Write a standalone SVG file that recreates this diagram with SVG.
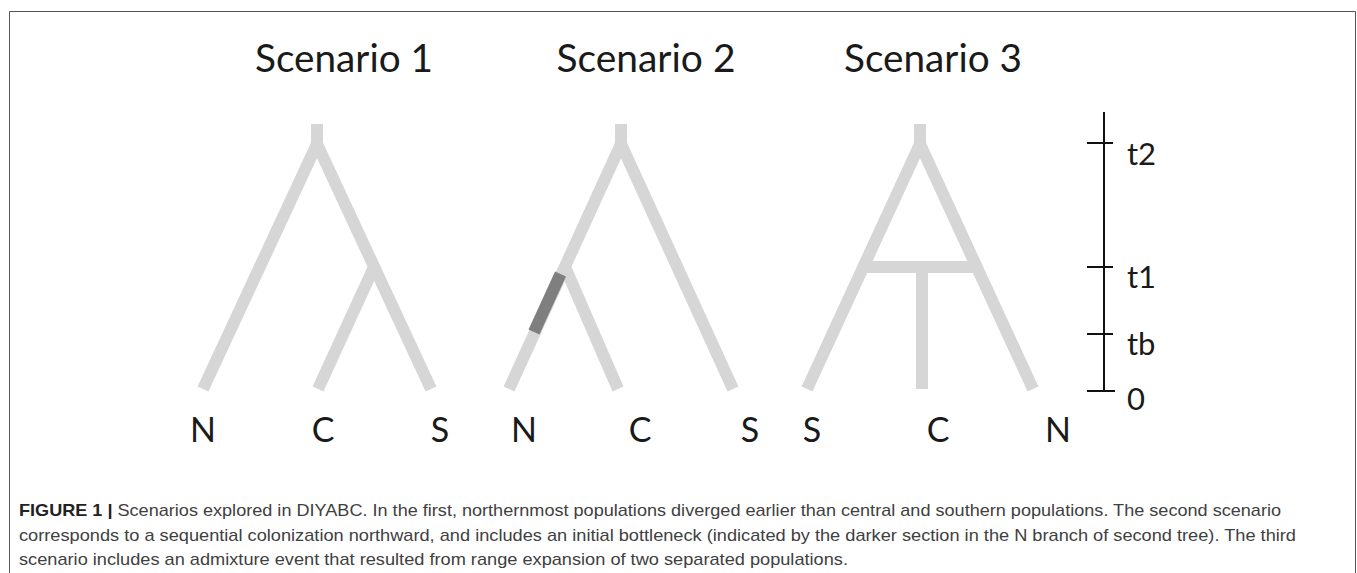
<svg xmlns="http://www.w3.org/2000/svg" width="1357" height="573" viewBox="0 0 1357 573">
<style>
.title{font-family:Lato,"Open Sans",sans-serif;font-size:38px;fill:#1a1a1a;text-anchor:middle}
.leaf{font-family:Lato,"Open Sans",sans-serif;font-size:34px;fill:#1a1a1a;text-anchor:middle}
.axl{font-family:Lato,"Open Sans",sans-serif;font-size:31px;fill:#1a1a1a}
.br{fill:none;stroke:#d6d6d6;stroke-width:12;stroke-linecap:butt;stroke-linejoin:miter}
.dark{fill:none;stroke:#7f7f7f;stroke-width:12;stroke-linecap:butt}
.ax{stroke:#111;stroke-width:2;fill:none}
.cap{font-family:"Liberation Sans",Arial,sans-serif;font-size:17px;fill:#404040}
</style>
<rect x="0" y="0" width="1357" height="573" fill="#fff"/>
<path d="M9.5,600 L9.5,11.5 L1355.5,11.5 L1355.5,600" fill="none" stroke="#555" stroke-width="1"/>
<g id="titles">
<text class="title" x="344" y="72" textLength="178" lengthAdjust="spacingAndGlyphs">Scenario 1</text>
<text class="title" x="646" y="72" textLength="179" lengthAdjust="spacingAndGlyphs">Scenario 2</text>
<text class="title" x="933" y="72" textLength="178" lengthAdjust="spacingAndGlyphs">Scenario 3</text>
</g>
<g id="connectors">
<g id="tree1">
<path class="br" d="M317,124 L317,150"/>
<path class="br" d="M203,389 L317,144 L431,389"/>
<path class="br" d="M374,267 L318,389"/>
</g>
<g id="tree2">
<path class="br" d="M621,124 L621,150"/>
<path class="br" d="M509,389 L621,144 L733,389"/>
<path class="br" d="M565,267 L618,389"/>
<path class="dark" d="M560.5,274 L534,332"/>
</g>
<g id="tree3">
<path class="br" d="M920,124 L920,150"/>
<path class="br" d="M807,389 L920,144 L1033,389"/>
<path class="br" d="M862,267 L978,267"/>
<path class="br" d="M922,267 L922,389"/>
</g>
</g>
<g id="leaves">
<text class="leaf" x="203" y="442">N</text>
<text class="leaf" x="323" y="442">C</text>
<text class="leaf" x="440" y="442">S</text>
<text class="leaf" x="524" y="442">N</text>
<text class="leaf" x="640" y="442">C</text>
<text class="leaf" x="750" y="442">S</text>
<text class="leaf" x="812" y="442">S</text>
<text class="leaf" x="938" y="442">C</text>
<text class="leaf" x="1058" y="442">N</text>
</g>
<g id="axis">
<path class="ax" d="M1104,112 L1104,391 M1087,143 L1113,143 M1087,267 L1113,267 M1087,334 L1113,334 M1087,391 L1115,391"/>
<text class="axl" x="1127" y="165">t2</text>
<text class="axl" x="1127" y="288">t1</text>
<text class="axl" x="1127" y="355">tb</text>
<text class="axl" x="1127" y="410">0</text>
</g>
<g id="caption">
<text class="cap" x="19" y="516" textLength="1262" lengthAdjust="spacingAndGlyphs"><tspan font-weight="bold" fill="#222">FIGURE 1 | </tspan>Scenarios explored in DIYABC. In the first, northernmost populations diverged earlier than central and southern populations. The second scenario</text>
<text class="cap" x="19" y="540.5" textLength="1277" lengthAdjust="spacingAndGlyphs">corresponds to a sequential colonization northward, and includes an initial bottleneck (indicated by the darker section in the N branch of second tree). The third</text>
<text class="cap" x="19" y="565" textLength="829" lengthAdjust="spacingAndGlyphs">scenario includes an admixture event that resulted from range expansion of two separated populations.</text>
</g>
</svg>
